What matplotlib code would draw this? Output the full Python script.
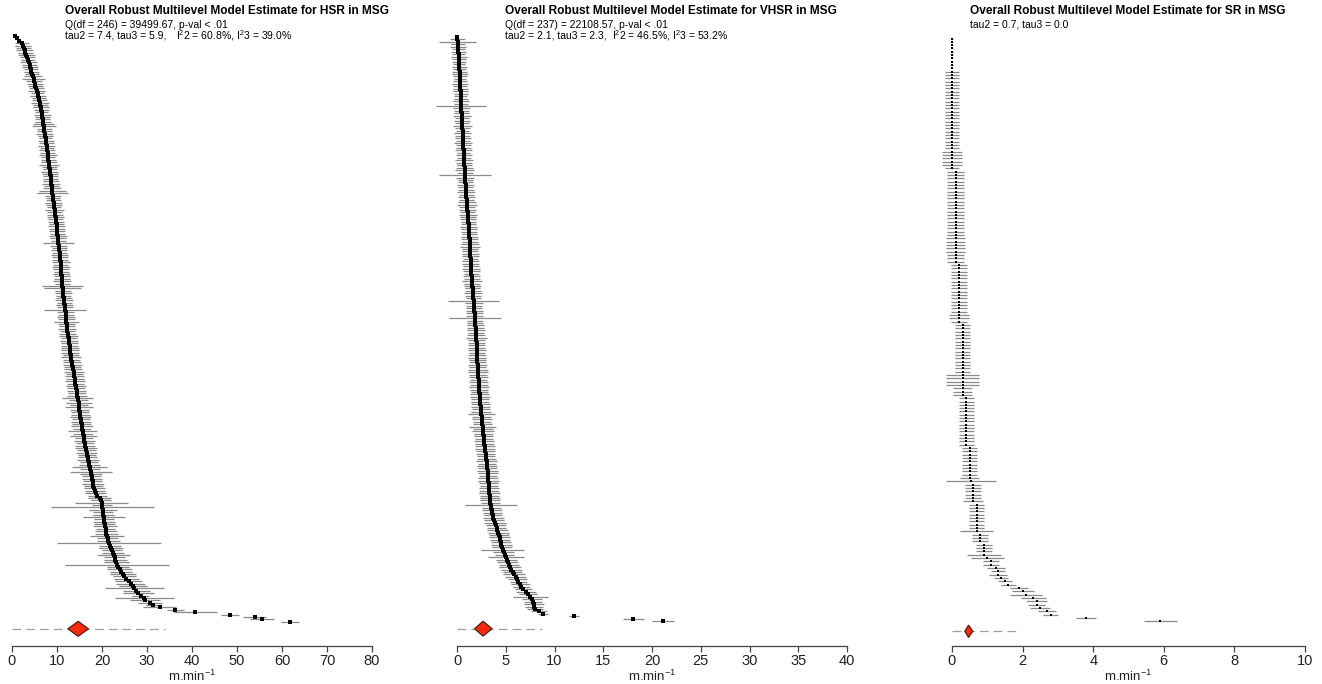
import numpy as np
import matplotlib.pyplot as plt
from matplotlib.patches import Polygon

plt.rcParams['font.family'] = ['Liberation Sans', 'DejaVu Sans']
plt.rcParams['mathtext.fontset'] = 'custom'
plt.rcParams['mathtext.rm'] = 'Liberation Sans'

## HSR in MSG (sorted study estimates and CI half-widths)
hsr_est = [0.7, 1.0, 1.5, 2.2, 2.4, 2.6, 2.8, 3.0, 3.2, 3.4,
           3.6, 3.7, 3.9, 4.0, 4.2, 4.3, 4.5, 4.6, 4.8, 4.9,
           5.1, 5.2, 5.4, 5.5, 5.7, 5.8, 6.0, 6.1, 6.2, 6.3,
           6.4, 6.5, 6.6, 6.7, 6.7, 6.8, 6.9, 7.0, 7.1, 7.2,
           7.2, 7.3, 7.4, 7.5, 7.5, 7.6, 7.7, 7.8, 7.8, 7.9,
           8.0, 8.0, 8.1, 8.2, 8.2, 8.3, 8.4, 8.4, 8.5, 8.6,
           8.6, 8.7, 8.7, 8.8, 8.9, 8.9, 9.0, 9.1, 9.1, 9.2,
           9.3, 9.3, 9.4, 9.5, 9.5, 9.6, 9.7, 9.7, 9.8, 9.9,
           9.9, 10.0, 10.0, 10.1, 10.2, 10.2, 10.3, 10.3, 10.4, 10.5,
           10.5, 10.6, 10.6, 10.7, 10.7, 10.8, 10.8, 10.9, 10.9, 11.0,
           11.0, 11.1, 11.1, 11.1, 11.2, 11.2, 11.3, 11.3, 11.4, 11.4,
           11.5, 11.5, 11.6, 11.7, 11.7, 11.8, 11.9, 12.0, 12.0, 12.1,
           12.1, 12.2, 12.2, 12.3, 12.3, 12.4, 12.5, 12.6, 12.6, 12.7,
           12.8, 12.9, 12.9, 13.0, 13.1, 13.1, 13.2, 13.3, 13.4, 13.5,
           13.6, 13.7, 13.8, 13.8, 13.9, 14.0, 14.1, 14.2, 14.3, 14.4,
           14.5, 14.5, 14.6, 14.7, 14.8, 14.9, 14.9, 15.0, 15.1, 15.2,
           15.2, 15.3, 15.4, 15.5, 15.5, 15.6, 15.7, 15.8, 15.9, 16.0,
           16.1, 16.2, 16.3, 16.4, 16.5, 16.6, 16.7, 16.8, 16.9, 17.1,
           17.2, 17.3, 17.4, 17.5, 17.6, 17.7, 17.8, 17.9, 18.0, 18.1,
           18.3, 18.4, 18.6, 19.0, 19.5, 19.8, 19.9, 20.0, 20.1, 20.2,
           20.2, 20.3, 20.4, 20.5, 20.5, 20.6, 20.7, 20.8, 20.9, 21.0,
           21.1, 21.3, 21.4, 21.6, 21.8, 22.0, 22.2, 22.4, 22.6, 22.8,
           23.0, 23.2, 23.4, 23.6, 23.9, 24.2, 24.6, 25.0, 25.4,
           25.9, 26.4, 26.9, 27.2, 27.6, 28.1, 28.6, 29.4, 29.5, 30.7,
           31.3, 32.8, 36.3, 40.7, 48.5, 53.9, 55.6, 61.7]
hsr_hw = [0.3, 0.4, 0.5, 1.6, 1.8, 1.7, 1.9, 1.6, 1.8, 1.7,
          1.6, 1.9, 1.7, 1.8, 1.6, 1.7, 1.5, 2.0, 2.6, 1.7,
          1.8, 1.6, 1.7, 1.9, 1.5, 1.8, 1.6, 1.7, 2.0, 1.6,
          1.8, 1.7, 1.5, 1.9, 1.7, 1.6, 1.8, 2.4, 2.6, 1.7,
          1.6, 1.9, 1.7, 1.5, 1.8, 1.7, 1.9, 1.6, 1.8, 1.7,
          1.9, 1.6, 1.7, 1.8, 2.2, 1.7, 1.6, 1.9, 1.8, 1.7,
          1.6, 1.8, 2.0, 1.7, 1.9, 3.0, 3.5, 1.8, 1.6, 1.7,
          1.9, 1.8, 1.6, 2.1, 1.7, 1.8, 1.9, 1.6, 1.8, 1.7,
          1.9, 1.7, 1.8, 1.6, 2.0, 1.8, 1.7, 3.4, 1.9, 1.7,
          1.8, 1.6, 1.9, 1.7, 1.8, 2.0, 1.7, 1.9, 1.8, 1.6,
          1.9, 1.7, 1.8, 2.0, 1.7, 4.5, 4.1, 1.8, 1.9, 1.7,
          1.8, 2.0, 1.7, 1.9, 1.8, 4.7, 1.9, 1.7, 2.0, 1.8,
          2.7, 1.9, 1.8, 2.0, 1.7, 1.9, 2.1, 1.8, 2.0, 1.9,
          1.8, 2.1, 1.9, 2.0, 1.8, 2.2, 1.9, 2.0, 2.1, 1.9,
          2.0, 2.2, 1.9, 2.1, 2.0, 2.3, 1.9, 2.2, 2.0, 2.1,
          2.0, 2.2, 3.5, 2.1, 2.9, 2.0, 3.2, 2.2, 2.0, 2.1,
          2.3, 2.0, 2.2, 2.1, 2.4, 2.0, 3.3, 2.2, 3.0, 2.1,
          2.3, 2.0, 2.2, 2.4, 2.1, 2.3, 2.0, 2.2, 2.5, 2.1,
          2.3, 3.9, 2.2, 4.7, 2.4, 2.1, 2.3, 2.2, 2.5, 2.1,
          2.3, 2.2, 2.4, 2.1, 2.5, 2.3, 5.8, 2.2, 11.5, 3.1,
          2.3, 2.4, 4.7, 2.2, 2.5, 2.3, 2.6, 2.2, 2.4, 2.5,
          3.8, 2.3, 2.6, 11.5, 2.4, 2.7, 2.3, 2.5, 3.6, 2.4,
          2.6, 2.8, 11.6, 2.5, 2.7, 2.4, 2.9, 2.6, 2.8,
          3.0, 3.2, 3.1, 6.6, 3.0, 3.4, 1.9, 6.5, 3.3, 2.6,
          1.5, 3.7, 1.9, 4.8, 2.0, 2.6, 2.7, 2.0]
hsr_summary = [14.7, 12.4, 17.0]   # estimate, CI low, CI high
hsr_pi = [0.0, 34.1]

## VHSR in MSG
vhsr_est = [0.0, 0.05, 0.08, 0.1, 0.12, 0.14, 0.15, 0.16, 0.18, 0.19,
            0.2, 0.22, 0.24, 0.25, 0.26, 0.28, 0.29, 0.3, 0.31, 0.32,
            0.33, 0.35, 0.36, 0.38, 0.39, 0.41, 0.42, 0.43, 0.44, 0.45,
            0.46, 0.48, 0.49, 0.5, 0.51, 0.53, 0.54, 0.55, 0.57, 0.58,
            0.59, 0.6, 0.62, 0.63, 0.64, 0.66, 0.67, 0.68, 0.7, 0.71,
            0.72, 0.74, 0.75, 0.77, 0.79, 0.8, 0.82, 0.84, 0.85, 0.87,
            0.88, 0.9, 0.92, 0.94, 0.95, 0.97, 0.99, 1.0, 1.02, 1.04,
            1.06, 1.08, 1.1, 1.12, 1.14, 1.16, 1.18, 1.2, 1.23, 1.26,
            1.27, 1.28, 1.3, 1.31, 1.32, 1.34, 1.35, 1.36, 1.37, 1.38,
            1.39, 1.4, 1.41, 1.42, 1.44, 1.46, 1.48, 1.5, 1.52, 1.54,
            1.56, 1.58, 1.6, 1.62, 1.64, 1.66, 1.68, 1.7, 1.72, 1.74,
            1.76, 1.78, 1.8, 1.81, 1.83, 1.85, 1.87, 1.89, 1.91, 1.93,
            1.95, 1.96, 1.97, 1.98, 2.0, 2.01, 2.02, 2.03, 2.04, 2.06,
            2.07, 2.08, 2.09, 2.11, 2.12, 2.14, 2.16, 2.18, 2.19, 2.21,
            2.23, 2.25, 2.26, 2.28, 2.3, 2.32, 2.34, 2.36, 2.38, 2.41,
            2.43, 2.46, 2.48, 2.51, 2.53, 2.56, 2.58, 2.61, 2.63, 2.66,
            2.68, 2.7, 2.73, 2.76, 2.79, 2.82, 2.85, 2.88, 2.91, 2.94,
            2.97, 3.0, 3.03, 3.07, 3.1, 3.12, 3.14, 3.16, 3.18, 3.2,
            3.22, 3.24, 3.26, 3.28, 3.3, 3.32, 3.34, 3.36, 3.38, 3.42,
            3.47, 3.52, 3.57, 3.62, 3.67, 3.73, 3.81, 3.9, 3.98, 4.07,
            4.15, 4.24, 4.3, 4.36, 4.43, 4.5, 4.56, 4.62, 4.68, 4.78,
            4.88, 4.98, 5.08, 5.2, 5.32, 5.43, 5.57, 5.7, 5.85, 6.0,
            6.2, 6.3, 6.5, 6.6, 6.8, 7.1, 7.3, 7.5, 7.7, 7.8,
            7.9, 7.9, 8.0, 8.4, 8.8, 12.0, 18.1, 21.1]
vhsr_hw = [0.1, 0.75, 1.9, 0.7, 0.8, 0.65, 0.75, 0.7, 0.8, 0.7,
           0.75, 0.65, 0.8, 0.7, 0.75, 0.8, 0.7, 0.65, 0.75, 0.8,
           0.7, 0.75, 0.8, 0.7, 0.65, 0.75, 0.8, 0.7, 2.56, 0.9,
           0.8, 0.75, 0.9, 0.7, 0.8, 0.75, 1.0, 0.8, 0.7, 0.85,
           0.75, 0.8, 0.7, 0.9, 0.75, 0.8, 0.85, 0.7, 0.8, 0.75,
           0.9, 0.8, 0.75, 0.85, 1.0, 0.8, 2.65, 0.9, 0.75, 0.8,
           0.85, 0.75, 0.8, 0.9, 0.75, 0.85, 0.8, 0.9, 1.0, 0.8,
           0.85, 0.75, 0.9, 0.8, 0.85, 0.75, 0.8, 0.9, 0.85, 0.8,
           0.75, 0.9, 0.85, 0.8, 0.9, 1.0, 0.85, 0.8, 0.9, 0.85,
           0.8, 0.9, 0.85, 0.8, 0.9, 0.85, 0.8, 0.9, 0.85, 1.0,
           0.85, 0.9, 0.8, 0.85, 0.9, 0.85, 0.8, 2.65, 0.9, 0.85,
           0.8, 0.9, 0.85, 0.9, 2.65, 0.85, 0.8, 0.9, 0.85, 0.9,
           0.85, 0.9, 1.06, 0.85, 0.9, 0.85, 0.9, 0.95, 0.85, 0.9,
           0.95, 0.9, 0.85, 0.95, 0.9, 1.0, 1.05, 0.9, 0.95, 0.9,
           0.95, 0.9, 1.0, 0.95, 0.9, 0.95, 1.0, 0.9, 0.95, 1.0,
           0.95, 0.9, 1.0, 1.4, 0.95, 1.0, 0.9, 0.95, 1.37, 1.0,
           1.1, 0.95, 1.0, 0.9, 1.0, 0.95, 1.0, 1.05, 0.95, 1.0,
           0.95, 1.0, 1.05, 0.95, 1.0, 0.95, 1.05, 1.0, 0.95, 1.0,
           1.05, 1.0, 0.95, 1.05, 1.0, 1.05, 0.95, 1.0, 1.05, 1.0,
           2.68, 1.0, 1.05, 1.0, 0.95, 1.05, 1.0, 1.1, 1.05, 1.0,
           1.1, 1.05, 1.0, 1.1, 1.05, 1.0, 1.1, 1.05, 2.2, 1.05,
           1.0, 1.85, 1.1, 1.05, 1.0, 1.1, 1.05, 1.0, 1.1, 1.05,
           1.0, 0.9, 1.0, 0.85, 0.9, 1.0, 0.95, 1.8, 1.0, 0.9,
           1.0, 0.9, 0.8, 0.85, 0.5, 0.56, 1.1, 1.15]
vhsr_summary = [2.67, 1.8, 3.6]
vhsr_pi = [0.0, 8.7]

## SR in MSG
sr_est = [0.0, 0.0, 0.0, 0.0, 0.0, 0.0, 0.0, 0.0, 0.0, 0.0,
          0.0, 0.0, 0.0, 0.0, 0.0, 0.0, 0.0, 0.0, 0.0, 0.0,
          0.0, 0.0, 0.0, 0.0, 0.0, 0.0, 0.0, 0.0, 0.0, 0.0,
          0.0, 0.0, 0.0, 0.0, 0.0, 0.0, 0.0, 0.0, 0.0, 0.0,
          0.1, 0.1, 0.1, 0.1, 0.1, 0.1, 0.1, 0.1, 0.1, 0.1,
          0.1, 0.1, 0.1, 0.1, 0.1, 0.1, 0.1, 0.1, 0.1, 0.1,
          0.1, 0.1, 0.1, 0.1, 0.1, 0.1, 0.1, 0.1,
          0.2, 0.2, 0.2, 0.2, 0.2, 0.2, 0.2, 0.2, 0.2, 0.2,
          0.2, 0.2, 0.2, 0.2, 0.2, 0.2, 0.2, 0.2,
          0.3, 0.3, 0.3, 0.3, 0.3, 0.3, 0.3, 0.3, 0.3, 0.3,
          0.3, 0.3, 0.3, 0.3, 0.3, 0.3, 0.3, 0.3, 0.3, 0.3,
          0.3, 0.3,
          0.4, 0.4, 0.4, 0.4, 0.4, 0.4, 0.4, 0.4, 0.4, 0.4,
          0.4, 0.4, 0.4, 0.4, 0.4,
          0.5, 0.5, 0.5, 0.5, 0.5, 0.5, 0.5, 0.5, 0.5, 0.5,
          0.55, 0.6, 0.6, 0.6, 0.6, 0.6, 0.6,
          0.7, 0.7, 0.7, 0.7, 0.7, 0.7, 0.7, 0.7, 0.7,
          0.8, 0.8, 0.8, 0.9, 0.9, 0.9, 0.9, 1.0, 1.1, 1.1,
          1.25, 1.3, 1.3, 1.4, 1.5, 1.6, 1.9, 2.0, 2.1, 2.3,
          2.4, 2.4, 2.5, 2.7, 2.8, 3.8, 5.9]
sr_hw = [0.02, 0.02, 0.02, 0.02, 0.02, 0.02, 0.02, 0.02, 0.02, 0.02,
         0.2, 0.2, 0.2, 0.2, 0.2, 0.2, 0.2, 0.2, 0.2, 0.2,
         0.2, 0.2, 0.2, 0.2, 0.2, 0.2, 0.2, 0.2, 0.2, 0.2,
         0.2, 0.2, 0.2, 0.2, 0.28, 0.28, 0.28, 0.28, 0.28, 0.2,
         0.23, 0.23, 0.23, 0.23, 0.23, 0.23, 0.23, 0.23, 0.23, 0.23,
         0.23, 0.23, 0.23, 0.23, 0.23, 0.23, 0.23, 0.23, 0.23, 0.23,
         0.27, 0.27, 0.27, 0.27, 0.27, 0.23, 0.23, 0.23,
         0.22, 0.22, 0.22, 0.22, 0.22, 0.22, 0.22, 0.22, 0.22, 0.22,
         0.22, 0.22, 0.22, 0.22, 0.22, 0.28, 0.28, 0.22,
         0.21, 0.21, 0.21, 0.21, 0.21, 0.21, 0.21, 0.21, 0.21, 0.21,
         0.21, 0.21, 0.21, 0.21, 0.21, 0.47, 0.47, 0.47, 0.47, 0.27,
         0.27, 0.27,
         0.21, 0.21, 0.21, 0.21, 0.21, 0.21, 0.21, 0.21, 0.21, 0.21,
         0.21, 0.21, 0.21, 0.21, 0.21,
         0.22, 0.22, 0.22, 0.22, 0.22, 0.22, 0.22, 0.22, 0.22, 0.27,
         0.71, 0.22, 0.22, 0.22, 0.22, 0.22, 0.28,
         0.22, 0.22, 0.22, 0.22, 0.22, 0.22, 0.22, 0.22, 0.47,
         0.22, 0.22, 0.22, 0.22, 0.22, 0.22, 0.48, 0.47, 0.22, 0.22,
         0.25, 0.2, 0.25, 0.2, 0.2, 0.22, 0.26, 0.31, 0.46, 0.35,
         0.3, 0.24, 0.28, 0.26, 0.21, 0.28, 0.47]
sr_summary = [0.47, 0.36, 0.59]
sr_pi = [0.0, 1.89]

W, H = 1322, 684

panels = [
    dict(est=hsr_est, hw=hsr_hw, summ=hsr_summary, pi=hsr_pi, xmax=80, ticks=range(0, 81, 10),
         px=(12, 372), rows_px=(36, 621.7), dh=7.5, tx=65, ms=2.3,
         title='Overall Robust Multilevel Model Estimate for HSR in MSG',
         lines=['Q(df = 246) = 39499.67, p-val < .01', 'tau2 = 7.4, tau3 = 5.9,'],
         i2=r'$\mathregular{I^2}$2 = 60.8%, $\mathregular{I^2}$3 = 39.0%', i2x=176),
    dict(est=vhsr_est, hw=vhsr_hw, summ=vhsr_summary, pi=vhsr_pi, xmax=40, ticks=range(0, 41, 5),
         px=(457, 847), rows_px=(37, 621.3), dh=7.5, tx=505, ms=2.2,
         title='Overall Robust Multilevel Model Estimate for VHSR in MSG',
         lines=['Q(df = 237) = 22108.57, p-val < .01', 'tau2 = 2.1, tau3 = 2.3,'],
         i2=r'$\mathregular{I^2}$2 = 46.5%, $\mathregular{I^2}$3 = 53.2%', i2x=612),
    dict(est=sr_est, hw=sr_hw, summ=sr_summary, pi=sr_pi, xmax=10, ticks=range(0, 11, 2),
         px=(952, 1305), rows_px=(38.5, 621.3), dh=6.2, tx=970, ms=1.9,
         title='Overall Robust Multilevel Model Estimate for SR in MSG',
         lines=['tau2 = 0.7, tau3 = 0.0'], i2=None, i2x=None),
]

fig = plt.figure(figsize=(W / 100, H / 100), dpi=100)
ax_top, ax_bot = 20, 646

for p in panels:
    est = np.array(p['est'])
    hw = np.array(p['hw'])
    assert len(est) == len(hw)
    k = len(est)
    rows = np.arange(k, 0, -1)
    first, last = p['rows_px']
    s = (last - first) / (k - 1)

    x0, x1 = p['px']
    ax = fig.add_axes([x0 / W, 1 - ax_bot / H, (x1 - x0) / W, (ax_bot - ax_top) / H])
    ax.set_xlim(0, p['xmax'])
    ax.set_ylim(1 - (ax_bot - last) / s, k + (first - ax_top) / s)

    ax.hlines(rows, est - hw, est + hw, color='#8a8a8a', lw=0.9, clip_on=False)
    ax.plot(est, rows, 's', ms=p['ms'], mew=0, color='black', snap=False,
            clip_on=False, zorder=3)

    # summary: prediction interval + diamond
    ysum = -2
    ax.plot(p['pi'], [ysum, ysum], color='#a0a0a0', lw=0.9, ls=(0, (7, 4)), clip_on=False)
    m, lo, hi = p['summ']
    dh = p['dh'] / s
    ax.add_patch(Polygon([[lo, ysum], [m, ysum + dh], [hi, ysum], [m, ysum - dh]],
                         closed=True, fc='#f52a0c', ec='#3a1a10', lw=0.8, clip_on=False,
                         zorder=4))

    for side in ['top', 'right', 'left']:
        ax.spines[side].set_visible(False)
    ax.spines['bottom'].set_color('#444444')
    ax.spines['bottom'].set_linewidth(0.9)
    ax.set_yticks([])
    ax.set_xticks(list(p['ticks']))
    ax.tick_params(axis='x', colors='#444444', labelcolor='#222222', labelsize=10.5,
                   length=4, width=0.9, pad=2)
    ax.set_xlabel(r'm.min$\mathregular{^{-1}}$', fontsize=9.5, color='#222222', labelpad=0)

    tx = p['tx'] / W
    fig.text(tx, 1 - 11.5 / H, p['title'], fontsize=8.6, fontweight='bold', va='center')
    for j, line in enumerate(p['lines']):
        fig.text(tx, 1 - (24.5 + 11.5 * j) / H, line, fontsize=7.5, va='center')
    if p['i2']:
        fig.text(p['i2x'] / W, 1 - 36 / H, p['i2'], fontsize=7.5, va='center')

fig.savefig('out.png', dpi=100)
